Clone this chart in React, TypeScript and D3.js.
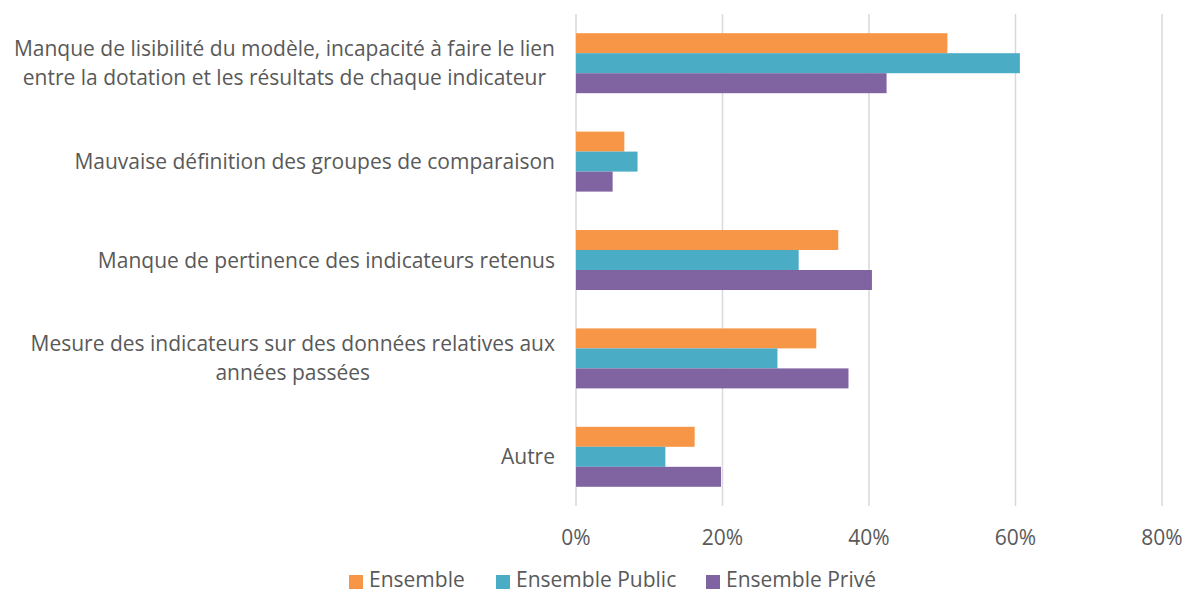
import React, { useEffect, useRef } from 'react';
import * as d3 from 'd3';

const categories = [
  ['Manque de lisibilité du modèle, incapacité à faire le lien', 'entre la dotation et les résultats de chaque indicateur'],
  ['Mauvaise définition des groupes de comparaison'],
  ['Manque de pertinence des indicateurs retenus'],
  ['Mesure des indicateurs sur des données relatives aux', 'années passées'],
  ['Autre'],
];
const seriesNames = ['Ensemble', 'Ensemble Public', 'Ensemble Privé'];
const colors = ['#F79646', '#4BACC6', '#8064A2'];
const ensemble = [50.7, 6.6, 35.8, 32.8, 16.2];
const ensemblePublic = [60.6, 8.4, 30.4, 27.5, 12.2];
const ensemblePrive = [42.4, 5.0, 40.4, 37.2, 19.8];
const ticks = [0, 20, 40, 60, 80];

const W = 1184;
const H = 594;
const FONT = '"Open Sans", "Noto Sans", sans-serif';
const TXT = '#595959';
const FS = 21;

export default function App() {
  const ref = useRef<SVGSVGElement>(null);

  useEffect(() => {
    const svg = d3.select(ref.current);
    svg.selectAll('*').remove();

    const x = d3.scaleLinear().domain([0, 80]).range([576, 1162]);
    const y = d3.scaleBand<number>().domain(d3.range(categories.length)).range([14, 506]);
    const inner = d3.scaleBand<number>().domain([0, 1, 2]).range([0, 60]);
    const groupOff = (y.bandwidth() - 60) / 2;
    const series = [ensemble, ensemblePublic, ensemblePrive];

    // gridlines
    svg.append('g')
      .selectAll('line')
      .data(ticks)
      .join('line')
      .attr('x1', d => x(d)).attr('x2', d => x(d))
      .attr('y1', 14).attr('y2', 506)
      .attr('stroke', '#D9D9D9').attr('stroke-width', 1.5);

    // bars
    series.forEach((vals, si) => {
      svg.append('g')
        .selectAll('rect')
        .data(vals)
        .join('rect')
        .attr('x', x(0))
        .attr('y', (_, i) => (y(i) as number) + groupOff + (inner(si) as number))
        .attr('width', d => x(d) - x(0))
        .attr('height', inner.bandwidth())
        .attr('fill', colors[si]);
    });

    // x tick labels
    svg.append('g')
      .selectAll('text')
      .data(ticks)
      .join('text')
      .attr('x', d => x(d)).attr('y', 545)
      .attr('text-anchor', 'middle')
      .attr('font-family', FONT).attr('font-size', FS).attr('fill', TXT)
      .text(d => d + '%');

    // category labels
    const right = 555;
    const lineH = 29;
    categories.forEach((lines, i) => {
      const cy = (y(i) as number) + y.bandwidth() / 2;
      const g = svg.append('g');
      const texts = g.selectAll('text')
        .data(lines)
        .join('text')
        .attr('y', (_, j) => cy + (j - (lines.length - 1) / 2) * lineH + 7.5)
        .attr('font-family', FONT).attr('font-size', FS).attr('fill', TXT)
        .attr('text-anchor', 'middle')
        .text(d => d);
      let maxW = 0;
      texts.each(function () {
        maxW = Math.max(maxW, (this as SVGTextElement).getComputedTextLength());
      });
      texts.attr('x', right - maxW / 2);
    });

    // legend
    const legendX = [349, 496, 706];
    seriesNames.forEach((name, i) => {
      svg.append('rect')
        .attr('x', legendX[i]).attr('y', 575)
        .attr('width', 14).attr('height', 14)
        .attr('fill', colors[i]);
      svg.append('text')
        .attr('x', legendX[i] + 20).attr('y', 587)
        .attr('font-family', FONT).attr('font-size', FS).attr('fill', TXT)
        .text(name);
    });
  }, []);

  return (
    <svg ref={ref} width={W} height={H} style={{ position: 'absolute', left: 0, top: 0, background: '#fff' }} />
  );
}
